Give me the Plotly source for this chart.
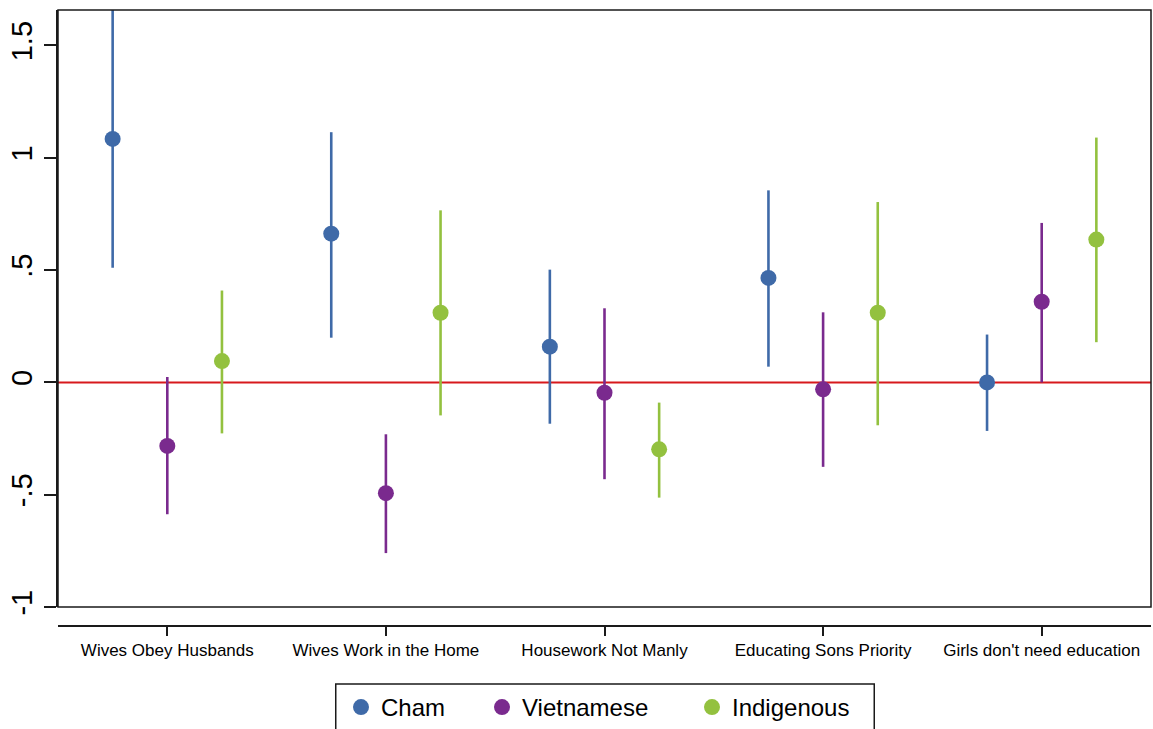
import plotly.graph_objects as go

categories = ["Wives Obey Husbands", "Wives Work in the Home", "Housework Not Manly",
              "Educating Sons Priority", "Girls don't need education"]
groups = ["Cham", "Vietnamese", "Indigenous"]

cham_est = [1.084, 0.662, 0.159, 0.465, 0.000]
cham_lo = [0.510, 0.199, -0.184, 0.070, -0.216]
cham_hi = [1.680, 1.114, 0.502, 0.855, 0.213]

viet_est = [-0.283, -0.493, -0.046, -0.031, 0.359]
viet_lo = [-0.587, -0.760, -0.431, -0.376, 0.000]
viet_hi = [0.024, -0.231, 0.330, 0.312, 0.710]

indi_est = [0.095, 0.310, -0.298, 0.310, 0.636]
indi_lo = [-0.227, -0.147, -0.513, -0.191, 0.179]
indi_hi = [0.409, 0.766, -0.090, 0.803, 1.090]

offsets = [-0.25, 0.0, 0.25]
colors = ["#3F6AA8", "#7A2A8E", "#93C13F"]

ytick_vals = [-1, -0.5, 0, 0.5, 1, 1.5]
ytick_text = ["-1", "-.5", "0", ".5", "1", "1.5"]

series = [(cham_est, cham_lo, cham_hi), (viet_est, viet_lo, viet_hi), (indi_est, indi_lo, indi_hi)]
legend_ids = ["legend", "legend2", "legend3"]
legend_x = [341 / 1153, 482 / 1153, 692 / 1153]

fig = go.Figure()
base = list(range(1, len(categories) + 1))
for g, (est, lo, hi), off, col in zip(groups, series, offsets, colors):
    xs = [b + off for b in base]
    lx, ly = [], []
    for x, l, h in zip(xs, lo, hi):
        lx += [x, x, None]
        ly += [l, h, None]
    fig.add_trace(go.Scatter(x=lx, y=ly, mode="lines", line=dict(color=col, width=2.6),
                             showlegend=False, legendgroup=g, hoverinfo="skip"))
for g, (est, lo, hi), off, col, lid in zip(groups, series, offsets, colors, legend_ids):
    xs = [b + off for b in base]
    fig.add_trace(go.Scatter(x=xs, y=est, mode="markers", name=g, legendgroup=g, legend=lid,
                             marker=dict(color=col, size=16, line=dict(width=0))))

fig.add_hline(y=0, line=dict(color="#D7191C", width=2), layer="below")
fig.add_shape(type="rect", xref="x domain", yref="y domain", x0=0, x1=1, y0=0, y1=1,
              line=dict(color="#1a1a1a", width=1.5), layer="above")
# legend frame
fig.add_shape(type="rect", xref="paper", yref="paper",
              x0=(336 - 58) / 1094, x1=(875 - 58) / 1094,
              y0=(626 - 684) / 616, y1=(626 - 745) / 616,
              line=dict(color="#1a1a1a", width=1.5), layer="above")

d = 19 / 616
leg_common = dict(orientation="h", xref="container", yref="container", y=1 - 685 / 729,
                  yanchor="top", xanchor="left", borderwidth=0, font=dict(size=24),
                  itemsizing="trace", bgcolor="rgba(0,0,0,0)")
layout_legends = {lid: dict(leg_common, x=lx) for lid, lx in zip(legend_ids, legend_x)}

fig.update_layout(
    width=1153, height=729,
    margin=dict(l=58, r=2, t=10, b=103, autoexpand=False),
    paper_bgcolor="white", plot_bgcolor="white",
    font=dict(family="Liberation Sans, Arial, Helvetica, sans-serif", color="black"),
    xaxis=dict(range=[0.5, 5.5], tickvals=base, ticktext=categories, automargin=False,
               showgrid=False, zeroline=False, showline=True, linecolor="#1a1a1a", linewidth=1.5,
               ticks="outside", ticklen=9, tickwidth=1.5, tickcolor="#1a1a1a",
               tickfont=dict(size=17), anchor="free", position=0),
    yaxis=dict(range=[-1, 1.658], domain=[d, 1], tickvals=ytick_vals, ticktext=ytick_text,
               automargin=False,
               showgrid=False, zeroline=False, showline=True, linecolor="#1a1a1a", linewidth=1.5,
               ticks="outside", ticklen=12, tickwidth=1.5, tickcolor="#1a1a1a",
               tickangle=-90, tickfont=dict(size=29), ticklabelstandoff=1),
    showlegend=True,
    **layout_legends,
)

fig.write_html("out.html", config={"displayModeBar": False},
               post_script="document.body.style.margin='0';document.body.style.overflow='hidden';")
